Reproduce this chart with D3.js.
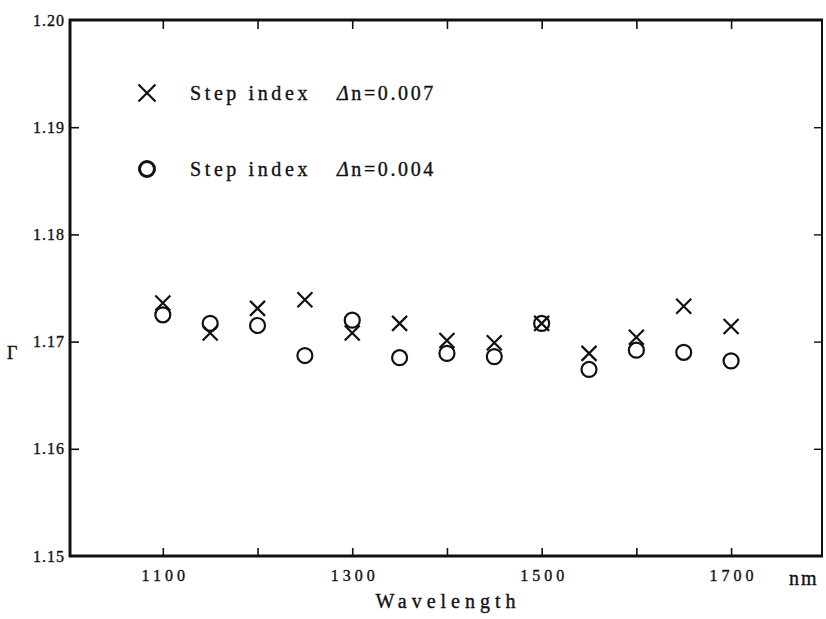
<!DOCTYPE html>
<html>
<head>
<meta charset="utf-8">
<script src="https://cdn.jsdelivr.net/npm/d3@7"></script>
<style>
  html, body { margin: 0; padding: 0; background: #fff; }
  svg { display: block; }
  text { font-family: "Liberation Serif", "Times New Roman", serif; fill: #111; stroke: #111; stroke-width: 0.35px; }
</style>
</head>
<body>
<svg id="chart" width="826" height="619"></svg>
<script>
// ---- data ----
const wavelengths = [1100, 1150, 1200, 1250, 1300, 1350, 1400, 1450, 1500, 1550, 1600, 1650, 1700];
const gammaDn007 = [1.1736, 1.1708, 1.1731, 1.1739, 1.1708, 1.1717, 1.1701, 1.1699, 1.1717, 1.1689, 1.1704, 1.1733, 1.1714];
const gammaDn004 = [1.1725, 1.1717, 1.1715, 1.1687, 1.1720, 1.1685, 1.1689, 1.1686, 1.1717, 1.1674, 1.1692, 1.1690, 1.1682];
const xTickValues = [1100, 1200, 1300, 1400, 1500, 1600, 1700];
const xTickLabels = ["1100", "", "1300", "", "1500", "", "1700"];
const yTickValues = [1.15, 1.16, 1.17, 1.18, 1.19, 1.20];
const yTickLabels = ["1.15", "1.16", "1.17", "1.18", "1.19", "1.20"];
const legendLabels = ["Step index", "Step index"];
const legendDn = ["=0.007", "=0.004"];

// ---- layout ----
const svg = d3.select("#chart");
const x = d3.scaleLinear().domain([1002, 1796]).range([70, 822]);
const y = d3.scaleLinear().domain([1.15, 1.20]).range([556, 20]);
const L = 70, R = 822, T = 20, B = 556;

// frame
const frame = svg.append("g").attr("stroke", "#111").attr("fill", "none");
frame.append("line").attr("x1", L).attr("x2", L).attr("y1", T - 1).attr("y2", B + 1).attr("stroke-width", 3);
frame.append("line").attr("x1", L - 1).attr("x2", R + 1).attr("y1", B).attr("y2", B).attr("stroke-width", 3);
frame.append("line").attr("x1", L - 1).attr("x2", R + 1).attr("y1", T).attr("y2", T).attr("stroke-width", 3);
frame.append("line").attr("x1", R).attr("x2", R).attr("y1", T).attr("y2", B).attr("stroke-width", 2);

// bottom axis (ticks inward)
const xAxisB = d3.axisBottom(x).tickValues(xTickValues)
  .tickSize(-8).tickPadding(14)
  .tickFormat((d, i) => xTickLabels[i]);
const gxb = svg.append("g").attr("transform", `translate(0,${B})`).call(xAxisB);
gxb.select(".domain").remove();
gxb.selectAll(".tick line").attr("stroke", "#111").attr("stroke-width", 1.6);
gxb.selectAll(".tick text").attr("font-size", 16).attr("letter-spacing", 4)
  .attr("fill", "#111").attr("dx", 2);

// top axis ticks
const xAxisT = d3.axisTop(x).tickValues(xTickValues).tickSize(-9).tickFormat("");
const gxt = svg.append("g").attr("transform", `translate(0,${T})`).call(xAxisT);
gxt.select(".domain").remove();
gxt.selectAll(".tick line").attr("stroke", "#111").attr("stroke-width", 1.6);

// left axis
const yAxisL = d3.axisLeft(y).tickValues(yTickValues)
  .tickSize(-9).tickPadding(5)
  .tickFormat((d, i) => yTickLabels[i]);
const gyl = svg.append("g").attr("transform", `translate(${L},0)`).call(yAxisL);
gyl.select(".domain").remove();
gyl.selectAll(".tick line").attr("stroke", "#111").attr("stroke-width", 1.6)
  .attr("display", d => (d === 1.15 || d === 1.20) ? "none" : null);
gyl.selectAll(".tick text").attr("font-size", 16).attr("letter-spacing", 1)
  .attr("fill", "#111");

// right axis ticks
const yAxisR = d3.axisRight(y).tickValues(yTickValues).tickSize(-8).tickFormat("");
const gyr = svg.append("g").attr("transform", `translate(${R},0)`).call(yAxisR);
gyr.select(".domain").remove();
gyr.selectAll(".tick line").attr("stroke", "#111").attr("stroke-width", 1.4)
  .attr("display", d => (d === 1.15 || d === 1.20) ? "none" : null);

// axis titles
svg.append("text").attr("x", 448).attr("y", 608).attr("text-anchor", "middle")
  .attr("font-size", 20).attr("letter-spacing", 5).text("Wavelength");
svg.append("text").attr("x", 789).attr("y", 585)
  .attr("font-size", 20).attr("letter-spacing", 2).text("nm");
svg.append("text").attr("x", 7).attr("y", 359)
  .attr("font-size", 18).text("Γ");

// ---- markers ----
const hs = 7.5;
function drawX(g, cx, cy, h, sw) {
  g.append("path")
    .attr("d", `M${cx - h},${cy - h}L${cx + h},${cy + h}M${cx - h},${cy + h}L${cx + h},${cy - h}`)
    .attr("stroke", "#111").attr("stroke-width", sw).attr("fill", "none");
}
const pts = svg.append("g");
wavelengths.forEach((w, i) => {
  pts.append("circle").attr("cx", x(w)).attr("cy", y(gammaDn004[i])).attr("r", 7.5)
    .attr("fill", "none").attr("stroke", "#111").attr("stroke-width", 2.2);
});
wavelengths.forEach((w, i) => {
  drawX(pts, x(w), y(gammaDn007[i]), hs, 2.2);
});

// ---- legend ----
const leg = svg.append("g");
const legRows = [93, 169];
drawX(leg, 147, legRows[0], 8.5, 2.2);
leg.append("circle").attr("cx", 147).attr("cy", legRows[1]).attr("r", 7.5)
  .attr("fill", "none").attr("stroke", "#111").attr("stroke-width", 3);
legRows.forEach((ry, i) => {
  leg.append("text").attr("x", 190).attr("y", ry + 7).attr("font-size", 20)
    .attr("letter-spacing", 3.6).text(legendLabels[i]);
  const t = leg.append("text").attr("x", 337).attr("y", ry + 7).attr("font-size", 20).attr("letter-spacing", 2.6);
  t.append("tspan").attr("font-style", "italic").text("Δ");
  t.append("tspan").text("n");
  t.append("tspan").text(legendDn[i]);
});
</script>
</body>
</html>
